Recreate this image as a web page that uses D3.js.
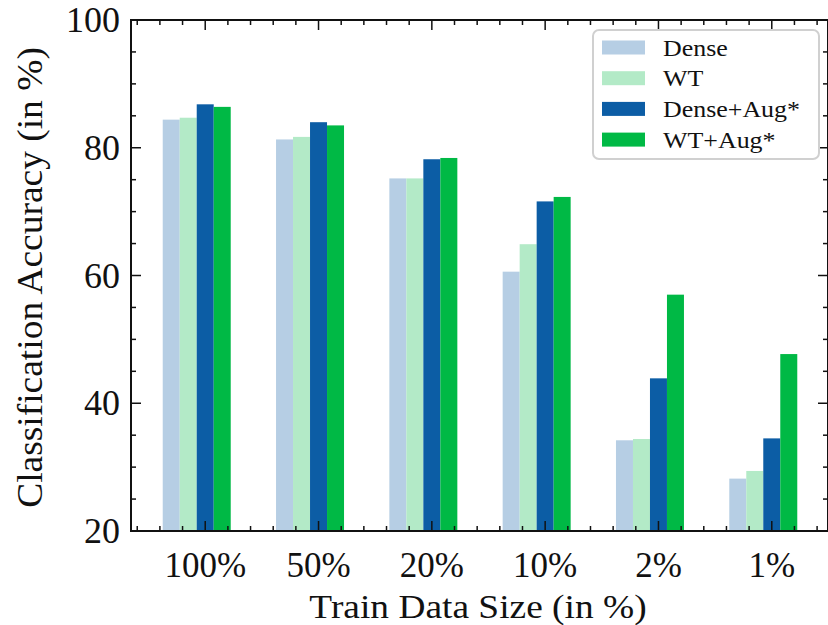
<!DOCTYPE html>
<html>
<head>
<meta charset="utf-8">
<script src="https://cdn.jsdelivr.net/npm/d3@7"></script>
<style>
  html, body { margin: 0; padding: 0; background: #fff; }
  svg { display: block; font-family: "Liberation Serif", "DejaVu Serif", serif; }
</style>
</head>
<body>
<div id="chart"></div>
<script>
const categories = ["100%", "50%", "20%", "10%", "2%", "1%"];
const seriesNames = ["Dense", "WT", "Dense+Aug*", "WT+Aug*"];
const dense    = [84.4, 81.3, 75.2, 60.6, 34.2, 28.2];
const wt       = [84.7, 81.7, 75.2, 64.9, 34.4, 29.4];
const denseAug = [86.8, 84.0, 78.2, 71.6, 43.9, 34.5];
const wtAug    = [86.4, 83.5, 78.4, 72.3, 57.0, 47.7];
const yTicks = [20, 40, 60, 80, 100];

const seriesValues = [dense, wt, denseAug, wtAug];
const colors = ["#b6cee4", "#b3eac7", "#0c5da5", "#00b945"];

const W = 828, H = 625;
const plotL = 131, plotR = 829, plotT = 20, plotB = 531;
const barW = 0.15;
const offsets = [-2, -1, 0, 1].map(k => k * barW);

const svg = d3.select("#chart").append("svg")
    .attr("width", W)
    .attr("height", H);

const x = d3.scaleLinear().domain([-0.655, 5.505]).range([plotL, plotR]);
const y = d3.scaleLinear().domain([20, 100]).range([plotB, plotT]);

// widen serif text a little so it runs like the LaTeX font
function widen(sel, k) {
    sel.each(function () {
        const len = this.getComputedTextLength();
        d3.select(this).attr("textLength", len * k).attr("lengthAdjust", "spacingAndGlyphs");
    });
}

// bars
seriesValues.forEach((vals, s) => {
    svg.append("g")
        .selectAll("rect")
        .data(vals)
        .join("rect")
        .attr("x", (d, i) => x(i + offsets[s] - barW / 2))
        .attr("width", x(barW) - x(0))
        .attr("y", d => y(d))
        .attr("height", d => y(20) - y(d))
        .attr("fill", colors[s]);
});

// axes: ticks inward on all four sides
const xMinor = d3.range(-3, 28).map(k => k * 0.2).filter(v => v >= -0.655 && v <= 5.505 && Math.abs(v - Math.round(v)) > 1e-6);
const yMinor = d3.range(20, 101, 5).filter(v => v % 20 !== 0);
const tickStyle = sel => sel.attr("stroke", "#111").attr("stroke-width", 1.5);

const axesG = svg.append("g");
function drawTicks(side) {
    const g = axesG.append("g");
    if (side === "bottom" || side === "top") {
        const y0 = side === "bottom" ? plotB : plotT;
        const dir = side === "bottom" ? -1 : 1;
        g.selectAll("line.maj").data(d3.range(categories.length)).join("line")
            .attr("x1", d => x(d)).attr("x2", d => x(d))
            .attr("y1", y0).attr("y2", y0 + dir * 10).call(tickStyle);
        g.selectAll("line.min").data(xMinor).join("line")
            .attr("x1", d => x(d)).attr("x2", d => x(d))
            .attr("y1", y0).attr("y2", y0 + dir * 5).call(tickStyle);
    } else {
        const x0 = side === "left" ? plotL : plotR - 1;
        const dir = side === "left" ? 1 : -1;
        g.selectAll("line.maj").data(yTicks).join("line")
            .attr("y1", d => y(d)).attr("y2", d => y(d))
            .attr("x1", x0).attr("x2", x0 + dir * 10).call(tickStyle);
        g.selectAll("line.min").data(yMinor).join("line")
            .attr("y1", d => y(d)).attr("y2", d => y(d))
            .attr("x1", x0).attr("x2", x0 + dir * 5).call(tickStyle);
    }
}
["bottom", "top", "left", "right"].forEach(drawTicks);

axesG.append("rect")
    .attr("x", plotL).attr("y", plotT)
    .attr("width", plotR - 1 - plotL).attr("height", plotB - plotT)
    .attr("fill", "none").attr("stroke", "#111").attr("stroke-width", 2);

// tick labels
svg.append("g").selectAll("text")
    .data(categories)
    .join("text")
    .attr("x", (d, i) => x(i))
    .attr("y", 577)
    .attr("text-anchor", "middle")
    .attr("font-size", 35)
    .attr("fill", "#111")
    .text(d => d);

svg.append("g").selectAll("text")
    .data(yTicks)
    .join("text")
    .attr("x", plotL - 11)
    .attr("y", d => y(d))
    .attr("dy", "0.34em")
    .attr("text-anchor", "end")
    .attr("font-size", 36)
    .attr("fill", "#111")
    .text(d => d);

// axis titles
svg.append("text")
    .attr("x", 478)
    .attr("y", 618)
    .attr("text-anchor", "middle")
    .attr("font-size", 34)
    .attr("fill", "#111")
    .text("Train Data Size (in %)")
    .call(widen, 1.1);

svg.append("text")
    .attr("transform", `translate(42,${(plotT + plotB) / 2 + 2}) rotate(-90)`)
    .attr("text-anchor", "middle")
    .attr("font-size", 35)
    .attr("fill", "#111")
    .text("Classification Accuracy (in %)")
    .call(widen, 1.07);

// legend
const legend = svg.append("g").attr("transform", "translate(593,30)");
legend.append("rect")
    .attr("width", 226).attr("height", 129)
    .attr("rx", 6)
    .attr("fill", "rgba(255,255,255,0.85)")
    .attr("stroke", "#d0d0d0").attr("stroke-width", 2);

const rows = legend.selectAll("g.row")
    .data(seriesNames)
    .join("g")
    .attr("class", "row")
    .attr("transform", (d, i) => `translate(0,${17.5 + i * 30.7})`);

rows.append("rect")
    .attr("x", 9).attr("y", -7)
    .attr("width", 43).attr("height", 14)
    .attr("fill", (d, i) => colors[i]);

rows.append("text")
    .attr("x", 70)
    .attr("dy", "0.34em")
    .attr("font-size", 24)
    .attr("fill", "#111")
    .text(d => d)
    .call(widen, 1.08);
</script>
</body>
</html>
